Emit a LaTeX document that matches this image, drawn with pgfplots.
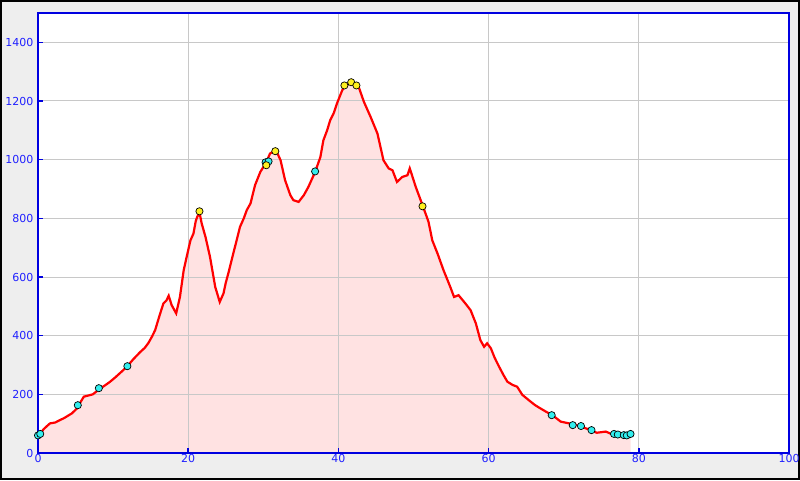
\documentclass[border=0pt]{standalone}
\usepackage{pgfplots}
\pgfplotsset{compat=1.18}
\usepackage{fontspec}
\setmainfont{DejaVu Sans}
\definecolor{bgc}{HTML}{EEEEEE}
\definecolor{axblue}{HTML}{0000E0}
\definecolor{lblblue}{HTML}{2020FF}
\definecolor{gridc}{HTML}{C8C8C8}
\definecolor{fillc}{HTML}{FFE2E2}
\definecolor{cyanm}{HTML}{33EEEE}
\definecolor{yelm}{HTML}{FFF020}
\pgfplotstableread{
x y
0 58
0.3 65
0.7 80
1.2 92
1.6 101
2.3 104
2.9 112
3.4 118
3.8 124
4.5 135
5.2 152
5.7 175
6.1 192
6.7 196
7.3 200
7.9 212
8.3 220
9.0 232
9.6 243
10.3 258
10.9 272
11.5 286
11.9 296
12.7 320
13.6 344
14.2 358
14.7 375
15.2 398
15.6 419
16.2 470
16.7 510
17.1 520
17.4 536
17.8 504
18.1 490
18.4 476
18.9 532
19.4 623
19.8 669
20.3 725
20.7 748
21.0 790
21.2 805
21.5 820
21.8 782
22.3 737
22.9 669
23.2 625
23.6 566
24.2 515
24.7 544
25.0 580
25.4 618
26.0 680
26.4 720
26.9 771
27.4 800
27.8 828
28.3 851
28.9 913
29.6 958
30.3 987
30.9 1021
31.5 1030
31.8 1026
32.3 998
32.9 930
33.6 879
34.0 862
34.7 856
35.4 879
36.0 907
36.9 958
37.6 1009
38.0 1066
38.5 1100
38.9 1134
39.4 1160
39.8 1191
40.5 1236
40.9 1253
41.6 1260
42.2 1258
42.7 1248
43.4 1197
44.3 1145
45.2 1089
46.0 998
46.7 970
47.2 964
47.8 924
48.5 941
49.2 947
49.5 970
49.8 947
50.3 907
51.2 845
52.0 788
52.5 725
53.2 680
54.0 623
54.9 566
55.4 532
56.0 538
56.9 510
57.6 487
58.3 442
58.9 385
59.4 362
59.8 374
60.3 357
60.8 325
61.4 294
62.0 265
62.5 243
63.2 232
63.8 226
64.5 198
65.6 175
66.2 163
66.9 152
67.7 140
68.5 129
69.6 107
70.7 101
71.5 97
72.3 90
73.6 78
74.4 69
75.6 73
76.7 61
78.0 61
78.9 61
}\profile
\pgfplotstableread{
x y
0.0 60
0.3 65
5.3 163
8.1 221
11.9 296
30.3 991
30.7 994
36.9 960
68.4 129
71.2 95
72.3 92
73.7 78
76.7 65
77.2 63
78.0 61
78.4 60
78.9 65
}\cyanpts
\pgfplotstableread{
x y
21.5 824
30.4 981
31.6 1029
40.8 1253
41.7 1264
42.4 1253
51.2 841
}\yelpts
\pgfplotsset{
  geom/.style={
    at={(38pt,27pt)}, anchor=south west,
    scale only axis, width=751pt, height=440pt,
    xmin=0, xmax=100, ymin=0, ymax=1500,
  }
}
\begin{document}
\begin{tikzpicture}[x=1pt,y=1pt]
\useasboundingbox (0,0) rectangle (800,480);
\fill[bgc] (0,0) rectangle (800,480);
\draw[black,line width=2pt] (1,1) rectangle (799,479);
\begin{axis}[geom, hide axis, axis background/.style={fill=white}]
\addplot[draw=none, fill=fillc] table[x=x,y=y] {\profile} \closedcycle;
\end{axis}
\begin{axis}[
  geom,
  xtick={0,20,40,60,80,100},
  ytick={0,200,400,600,800,1000,1200,1400},
  axis line style={axblue, line width=1.5pt},
  tick style={axblue, line width=1.5pt},
  tick align=inside, major tick length=5pt,
  xtick pos=bottom, ytick pos=left,
  grid=major, major grid style={gridc, line width=1pt},
  tick label style={font=\fontsize{11}{13}\selectfont, text=lblblue},
  /pgf/number format/assume math mode=true,
  /pgf/number format/1000 sep={},
  xticklabel style={yshift=2pt},
  yticklabel style={xshift=-1pt},
  clip=true,
]
\addplot[red, line width=2.2pt] table[x=x,y=y] {\profile};
\addplot[only marks, mark=*, mark size=3.6pt, mark options={fill=cyanm, draw=black, line width=0.7pt}] table[x=x,y=y] {\cyanpts};
\addplot[only marks, mark=*, mark size=3.6pt, mark options={fill=yelm, draw=black, line width=0.7pt}] table[x=x,y=y] {\yelpts};
\end{axis}
\end{tikzpicture}
\end{document}
